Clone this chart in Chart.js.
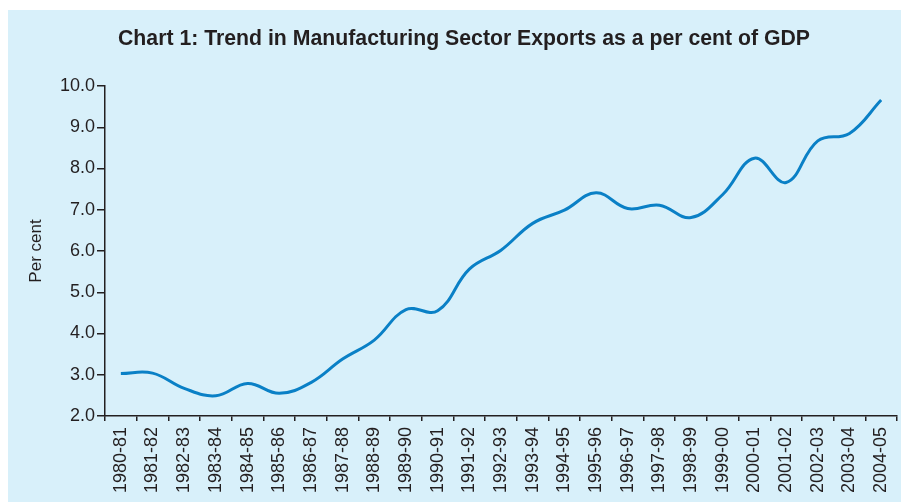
<!DOCTYPE html>
<html>
<head>
<meta charset="utf-8">
<script src="https://cdn.jsdelivr.net/npm/chart.js@4"></script>
<style>
  html, body { margin: 0; padding: 0; background: #ffffff; }
  #wrap { width: 901px; height: 502px; position: relative; }
  canvas { display: block; }
</style>
</head>
<body>
<div id="wrap"><canvas id="c" width="901" height="502"></canvas></div>
<script>
const chartTitle = "Chart 1: Trend in Manufacturing Sector Exports as a per cent of GDP";
const yAxisTitle = "Per cent";
const categories = ["1980-81","1981-82","1982-83","1983-84","1984-85","1985-86","1986-87","1987-88","1988-89","1989-90","1990-91","1991-92","1992-93","1993-94","1994-95","1995-96","1996-97","1997-98","1998-99","1999-00","2000-01","2001-02","2002-03","2003-04","2004-05"];
const exportsShare = [3.03, 3.04, 2.67, 2.49, 2.79, 2.55, 2.81, 3.38, 3.84, 4.58, 4.55, 5.56, 6.02, 6.67, 6.99, 7.41, 7.03, 7.11, 6.81, 7.37, 8.25, 7.66, 8.67, 8.85, 9.66];
const yMin = 2, yMax = 10, yStep = 1;

const panelBg = {
  id: 'panelBg',
  beforeDraw(chart) {
    const ctx = chart.ctx;
    ctx.save();
    ctx.fillStyle = '#ffffff';
    ctx.fillRect(0, 0, chart.width, chart.height);
    ctx.fillStyle = '#d8f0fa';
    ctx.fillRect(8, 10, chart.width - 8, chart.height - 10);
    ctx.restore();
  },
  afterDraw(chart) {
    const ctx = chart.ctx;
    ctx.save();
    ctx.fillStyle = '#231f20';
    ctx.font = 'bold 22px "Liberation Sans", Arial, sans-serif';
    ctx.textAlign = 'center';
    ctx.textBaseline = 'alphabetic';
    ctx.fillText(chartTitle, 464, 45, 692);
    ctx.restore();
  }
};

new Chart(document.getElementById('c'), {
  type: 'line',
  data: {
    labels: categories,
    datasets: [{
      data: exportsShare,
      borderColor: '#0a80c6',
      borderWidth: 3,
      pointRadius: 0,
      tension: 0.4,
      fill: false
    }]
  },
  options: {
    responsive: false,
    animation: false,
    layout: { padding: { top: 86, right: 4, bottom: 0, left: 0 } },
    plugins: { legend: { display: false }, tooltip: { enabled: false }, title: { display: false } },
    scales: {
      x: {
        type: 'category',
        offset: true,
        grid: { display: true, drawOnChartArea: false, offset: true, tickLength: 5, color: '#231f20', lineWidth: 1.5 },
        border: { display: true, color: '#231f20', width: 1.5 },
        ticks: { color: '#231f20', font: { family: '"Liberation Sans", Arial, sans-serif', size: 18 }, maxRotation: 90, minRotation: 90, autoSkip: false, padding: 6 },
        afterFit(scale) { scale.height = 86; scale.paddingLeft = 0; scale.paddingRight = 0; }
      },
      y: {
        min: yMin, max: yMax,
        grid: { display: true, drawOnChartArea: false, tickLength: 8, color: '#231f20', lineWidth: 1.5 },
        border: { display: true, color: '#231f20', width: 1.5 },
        ticks: { stepSize: yStep, color: '#231f20', padding: 2, font: { family: '"Liberation Sans", Arial, sans-serif', size: 18 }, callback: (v) => Number(v).toFixed(1) },
        title: { display: true, text: yAxisTitle, color: '#231f20', font: { family: '"Liberation Sans", Arial, sans-serif', size: 17 }, padding: { top: 26, bottom: 0 } },
        afterFit(scale) { scale.width = 105; scale.paddingTop = 0; scale.paddingBottom = 0; }
      }
    }
  },
  plugins: [panelBg]
});
</script>
</body>
</html>
